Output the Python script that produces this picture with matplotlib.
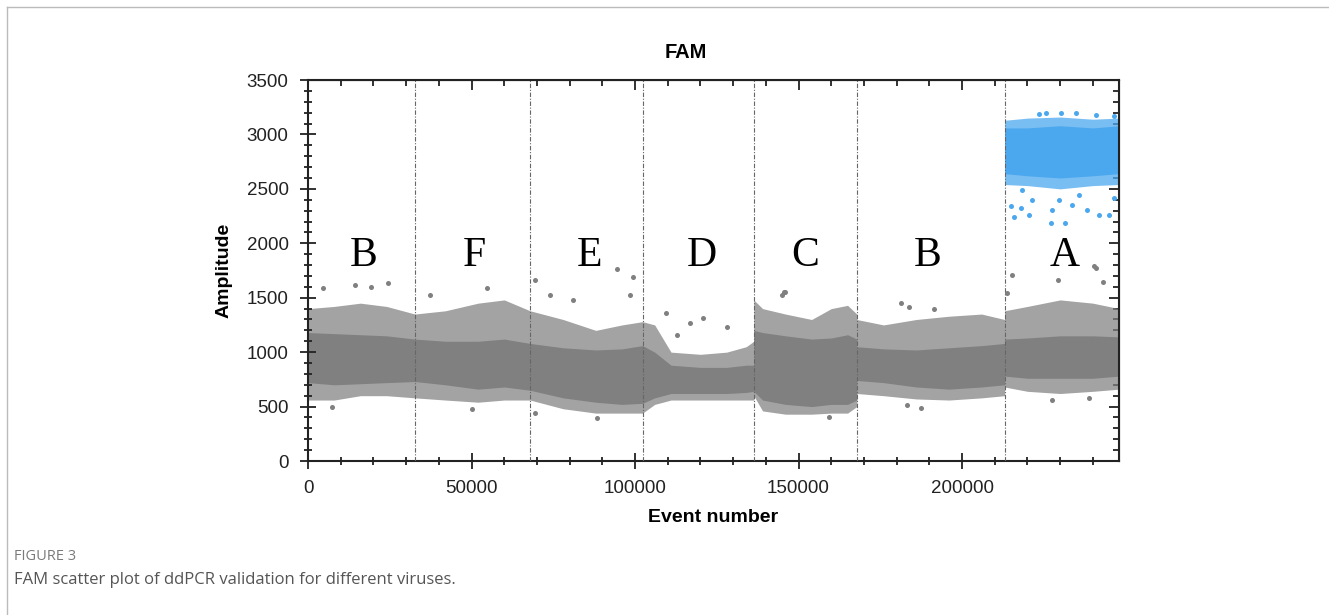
import matplotlib
matplotlib.use("Agg")
import matplotlib.pyplot as plt
from matplotlib.lines import Line2D
from matplotlib.ticker import MultipleLocator
import numpy as np

plt.rcParams['font.family'] = ['Liberation Sans', 'DejaVu Sans']

# 分区（事件号）和标签
dividers = [32700, 67900, 102300, 136300, 167800, 213000]
seg_labels = ["B", "F", "E", "D", "C", "B", "A"]
seg_label_x = [17000, 51000, 86000, 120500, 152000, 189500, 231500]
seg_label_y = 1890

# 灰色液滴带（阴性），从图上读的包络
band_x = [0, 8000, 16000, 24000, 32700,
          32700, 42000, 52000, 60000, 67900,
          67900, 78000, 88000, 96000, 102300,
          102300, 106000, 111000, 120000, 128000, 134000, 136300,
          136300, 139000, 146000, 154000, 160000, 165000, 167800,
          167800, 176000, 186000, 196000, 206000, 213000,
          213000, 220000, 230000, 240000, 248000]
core_hi = [1180, 1170, 1160, 1150, 1120,
           1120, 1100, 1100, 1120, 1080,
           1080, 1040, 1020, 1030, 1060,
           1060, 1000, 880, 860, 860, 880, 880,
           1200, 1180, 1150, 1120, 1130, 1160, 1120,
           1050, 1030, 1020, 1040, 1060, 1080,
           1120, 1130, 1150, 1150, 1140]
core_lo = [720, 700, 710, 720, 730,
           730, 700, 660, 680, 650,
           650, 580, 540, 520, 530,
           530, 580, 620, 620, 620, 630, 640,
           640, 560, 520, 500, 520, 520, 560,
           740, 720, 680, 660, 680, 700,
           780, 760, 760, 760, 780]
fringe_hi = [1400, 1420, 1450, 1420, 1350,
             1350, 1380, 1450, 1480, 1380,
             1380, 1300, 1200, 1250, 1280,
             1280, 1250, 1000, 980, 1000, 1050, 1100,
             1480, 1400, 1350, 1300, 1400, 1430, 1350,
             1300, 1250, 1300, 1330, 1350, 1300,
             1380, 1420, 1480, 1450, 1400]
fringe_lo = [560, 560, 600, 600, 580,
             580, 560, 540, 560, 560,
             560, 480, 440, 440, 440,
             440, 520, 560, 560, 560, 560, 560,
             600, 460, 430, 430, 440, 440, 500,
             620, 600, 570, 560, 580, 600,
             680, 640, 620, 640, 660]

# 零散的灰点
grey_pts_x = [24400, 14400, 19200, 4600, 54700, 37300, 69300, 73900, 69300, 7300,
              50100, 80900, 99300, 98300, 109600, 120900, 116700, 144800, 146000, 88300,
              112700, 128000, 94400, 241000, 215300, 240400, 243100, 229400, 145700, 181400,
              191500, 213800, 187500, 159400, 183900, 183300, 227600, 238900]
grey_pts_y = [1635, 1617, 1600, 1590, 1590, 1525, 1663, 1525, 441, 496,
              478, 1479, 1690, 1525, 1360, 1313, 1268, 1525, 1552, 395,
              1157, 1231, 1764, 1773, 1709, 1791, 1644, 1663, 1552, 1451,
              1396, 1543, 487, 404, 1415, 514, 560, 579]

# 蓝色阳性液滴（A）
blue_x = [213000, 220000, 230000, 240000, 248000]
blue_core_lo = [2640, 2620, 2600, 2620, 2640]
blue_core_hi = [3060, 3060, 3080, 3060, 3080]
blue_fringe_lo = [2540, 2530, 2500, 2530, 2540]
blue_fringe_hi = [3130, 3150, 3160, 3140, 3150]
blue_pts_x = [215900, 220500, 227200, 231500, 215000, 218100, 221400, 227500, 233600, 238200,
              241900, 245000, 218400, 229700, 235800, 246500, 223600, 230300, 234900, 241000,
              225700, 246500]
blue_pts_y = [2241, 2260, 2186, 2186, 2342, 2324, 2397, 2306, 2352, 2306,
              2260, 2260, 2489, 2397, 2443, 2416, 3188, 3197, 3197, 3178,
              3197, 3169]

grey = "#808080"
blue = "#4ca8ee"

fig = plt.figure(figsize=(13.29, 6.15), dpi=100)
ax = fig.add_axes([0.2318, 0.2504, 0.6102, 0.6195])

ax.fill_between(band_x, fringe_lo, fringe_hi, color=grey, alpha=0.72, lw=0)
ax.fill_between(band_x, core_lo, core_hi, color=grey, lw=0)
ax.scatter(grey_pts_x, grey_pts_y, s=13, color=grey, lw=0)

ax.fill_between(blue_x, blue_fringe_lo, blue_fringe_hi, color=blue, alpha=0.75, lw=0)
ax.fill_between(blue_x, blue_core_lo, blue_core_hi, color=blue, lw=0)
ax.scatter(blue_pts_x, blue_pts_y, s=13, color=blue, lw=0)

for d in dividers:
    ax.axvline(d, color="#666666", lw=0.8, ls=(0, (4, 1.5, 1, 1.5)), zorder=3)

for lab, lx in zip(seg_labels, seg_label_x):
    ax.text(lx, seg_label_y, lab, ha="center", va="center", fontsize=30,
            family=["Liberation Serif", "DejaVu Serif"])

ax.set_xlim(0, 248000)
ax.set_ylim(0, 3500)
ax.xaxis.set_major_locator(MultipleLocator(50000))
ax.xaxis.set_minor_locator(MultipleLocator(10000))
ax.yaxis.set_major_locator(MultipleLocator(500))
ax.yaxis.set_minor_locator(MultipleLocator(100))
ax.tick_params(which="both", direction="inout", colors="#222222", labelsize=13.5,
               width=1.3)
ax.tick_params(which="major", length=12, pad=8)
ax.tick_params(which="minor", length=6)
for s in ax.spines.values():
    s.set_linewidth(1.5)
    s.set_color("#222222")

# 上、右边的刻度朝内
top = ax.secondary_xaxis("top")
top.xaxis.set_major_locator(MultipleLocator(50000))
top.xaxis.set_minor_locator(MultipleLocator(10000))
top.tick_params(which="both", direction="in", labeltop=False, width=1.3, colors="#222222")
top.tick_params(which="major", length=7)
top.tick_params(which="minor", length=4)
right = ax.secondary_yaxis("right")
right.yaxis.set_major_locator(MultipleLocator(500))
right.yaxis.set_minor_locator(MultipleLocator(100))
right.tick_params(which="both", direction="in", labelright=False, width=1.3, colors="#222222")
right.tick_params(which="major", length=7)
right.tick_params(which="minor", length=4)

ax.set_xlabel("Event number", fontsize=14, fontweight="bold", labelpad=8)
ax.set_ylabel("Amplitude", fontsize=14, fontweight="bold", labelpad=10)
fig.text(686 / 1329, 1 - 52 / 615, "FAM", ha="center", va="center",
         fontsize=14.5, fontweight="bold")

# 边框和图注
fig.add_artist(Line2D([7 / 1329, 7 / 1329], [0, 1 - 7 / 615], color="#bbbbbb", lw=1))
fig.add_artist(Line2D([7 / 1329, 1], [1 - 7 / 615, 1 - 7 / 615], color="#bbbbbb", lw=1))
fig.text(14 / 1329, 1 - 556 / 615, "FIGURE 3", ha="left", va="center",
         fontsize=10.5, color="#7a7a7a", family=["Open Sans", "DejaVu Sans"])
fig.text(14 / 1329, 1 - 580 / 615, "FAM scatter plot of ddPCR validation for different viruses.",
         ha="left", va="center", fontsize=12, color="#555555", family=["Open Sans", "DejaVu Sans"])

fig.savefig("out.png", dpi=100)
